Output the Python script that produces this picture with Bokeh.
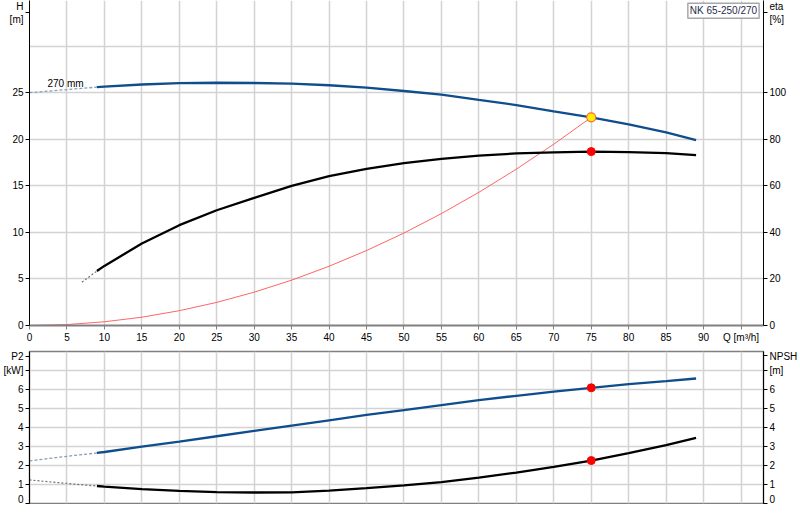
from bokeh.plotting import figure
from bokeh.models import Range1d, LinearAxis, FixedTicker, Label
from bokeh.layouts import column
from bokeh.embed import file_html
from bokeh.resources import INLINE

FONT = "Liberation Sans"

# ---------------- data ----------------
q_ticks = [0, 5, 10, 15, 20, 25, 30, 35, 40, 45, 50, 55, 60, 65, 70, 75, 80, 85, 90, 95]
h_ticks = [0, 5, 10, 15, 20, 25]
eta_ticks = [0, 20, 40, 60, 80, 100]
p2_ticks = [0, 1, 2, 3, 4, 5, 6, 7]

# head curve (270 mm impeller)
q_h_ext = [0, 3, 6, 9]
h_ext = [25.0, 25.2, 25.4, 25.6]
q_h = [9, 10, 15, 20, 25, 30, 35, 40, 45, 50, 55, 60, 65, 70, 75, 80, 85, 89]
h = [25.6, 25.65, 25.88, 26.02, 26.07, 26.04, 25.97, 25.8, 25.54, 25.18, 24.79,
     24.22, 23.67, 23.0, 22.35, 21.6, 20.75, 19.9]

# efficiency
q_eta_ext = [7, 9]
eta_ext = [18.6, 23.4]
q_eta = [9, 10, 15, 20, 25, 30, 35, 40, 45, 50, 55, 60, 65, 70, 75, 80, 85, 89]
eta = [23.4, 25.6, 35.2, 43.1, 49.5, 54.8, 60.0, 64.2, 67.3, 69.7, 71.6, 73.0,
       73.9, 74.4, 74.7, 74.5, 74.0, 73.2]

# system curve
q_sys = [0, 5, 10, 15, 20, 25, 30, 35, 40, 45, 50, 55, 60, 65, 70, 75]
h_sys = [0, 0.10, 0.40, 0.89, 1.59, 2.48, 3.58, 4.87, 6.36, 8.05, 9.93, 12.02,
         14.30, 16.79, 19.47, 22.35]

# duty point
q_duty = [75]
h_duty = [22.35]
eta_duty = [74.7]
p2_duty = [6.09]
npsh_duty = [2.26]

# power P2
q_p2_ext = [0, 3, 6, 9]
p2_ext = [2.24, 2.39, 2.53, 2.66]
q_p2 = [9, 10, 15, 20, 25, 30, 35, 40, 45, 50, 55, 60, 65, 70, 75, 80, 85, 89]
p2 = [2.66, 2.71, 2.99, 3.26, 3.54, 3.82, 4.1, 4.38, 4.66, 4.92, 5.18, 5.44,
      5.67, 5.89, 6.09, 6.28, 6.44, 6.58]

# NPSH
q_npsh_ext = [0, 3, 6, 9]
npsh_ext = [1.24, 1.13, 1.02, 0.92]
q_npsh = [9, 10, 15, 20, 25, 30, 35, 40, 45, 50, 55, 60, 65, 70, 75, 80, 85, 89]
npsh = [0.92, 0.89, 0.76, 0.66, 0.6, 0.58, 0.59, 0.68, 0.81, 0.95, 1.13, 1.36,
        1.63, 1.93, 2.26, 2.65, 3.07, 3.45]

# axis titles (shown as tick labels beside the axes)
h_title_at = 33.65
eta_title_at = 134.6
p2_title_at = 7.76
npsh_title_at = 7.79

BLUE = "#0f4d8c"
BLUE_DASH = "#8a9bbb"
GRID = "#d3d3d3"


def style_axis(ax, color="black", width=1):
    ax.axis_line_color = color
    ax.axis_line_width = width
    ax.major_tick_line_color = color
    ax.major_tick_out = 4
    ax.major_tick_in = 0
    ax.minor_tick_line_color = None
    ax.major_label_text_font = FONT
    ax.major_label_text_font_size = "10px"
    ax.major_label_text_color = "black"
    ax.major_label_standoff = 2


def label(p, x, y, text, align="center", baseline="top", size="10px", color="black", **kw):
    lb = Label(x=x, y=y, text=text, text_font=FONT, text_font_size=size,
               text_align=align, text_baseline=baseline, text_color=color, **kw)
    p.add_layout(lb)
    return lb


# ---------------- top chart ----------------
p1 = figure(width=800, height=350, x_range=Range1d(0, 98), y_range=Range1d(0, 34.9),
            output_backend="svg", toolbar_location=None,
            min_border_left=29, min_border_right=37, min_border_top=0, min_border_bottom=25)
p1.outline_line_color = None
p1.background_fill_color = "white"
p1.border_fill_color = "white"

p1.xaxis.ticker = FixedTicker(ticks=q_ticks)
p1.xaxis.major_label_overrides = {95: "Q [m³/h]"}
style_axis(p1.xaxis[0], color="#808080", width=2)
p1.xaxis.major_label_standoff = 2
p1.yaxis.ticker = FixedTicker(ticks=h_ticks + [h_title_at])
p1.yaxis.major_label_overrides = {h_title_at: "H\n[m]"}
style_axis(p1.yaxis[0])

p1.extra_y_ranges = {"eta": Range1d(0, 34.9 * 4)}
ax_eta = LinearAxis(y_range_name="eta", ticker=FixedTicker(ticks=eta_ticks + [eta_title_at]),
                    major_label_overrides={eta_title_at: "eta\n[%]"})
style_axis(ax_eta)
p1.add_layout(ax_eta, "right")

p1.xgrid.ticker = FixedTicker(ticks=q_ticks[1:])
p1.ygrid.ticker = FixedTicker(ticks=[5, 10, 15, 20, 25, 30])
for g in (p1.xgrid[0], p1.ygrid[0]):
    g.grid_line_color = GRID
    g.grid_line_width = 1.5

p1.line(q_sys, h_sys, line_color="#ff4a4a", line_width=1, line_alpha=0.85)
p1.line(q_h_ext, h_ext, line_color=BLUE_DASH, line_width=1.3, line_dash="3 2")
p1.line(q_h, h, line_color=BLUE, line_width=2.3)
p1.line(q_eta_ext, eta_ext, line_color="#707070", line_width=1.2, line_dash="2 2",
        y_range_name="eta")
p1.line(q_eta, eta, line_color="black", line_width=2.3, y_range_name="eta")
p1.scatter(q_duty, eta_duty, size=8, fill_color="#ff0000", line_color="#ff0000",
           y_range_name="eta")
p1.scatter(q_duty, h_duty, size=9, fill_color="#ffee00", line_color="#ff6a30",
           line_width=1.2)

label(p1, 2.4, 26.0, "270 mm", align="left", baseline="alphabetic")
label(p1, 87.9, 34.6, "NK 65-250/270", align="left", baseline="top", color="#1f2d4d",
      padding=2, border_line_color="#a8a8a8", border_line_width=1.5,
      background_fill_color="white")

# ---------------- bottom chart ----------------
p2f = figure(width=800, height=154, x_range=Range1d(0, 98), y_range=Range1d(0, 8),
             output_backend="svg", toolbar_location=None,
             min_border_left=29, min_border_right=37, min_border_top=1, min_border_bottom=1)
p2f.outline_line_color = "#808080"
p2f.outline_line_width = 1.5
p2f.background_fill_color = "white"
p2f.border_fill_color = "white"
p2f.xaxis.visible = False
p2f.yaxis.ticker = FixedTicker(ticks=p2_ticks + [p2_title_at])
p2f.yaxis.major_label_overrides = {7: "[kW]", p2_title_at: "P2"}
style_axis(p2f.yaxis[0])
ax_npsh = LinearAxis(ticker=FixedTicker(ticks=p2_ticks + [npsh_title_at]),
                     major_label_overrides={7: "[m]", npsh_title_at: "NPSH"})
style_axis(ax_npsh)
p2f.add_layout(ax_npsh, "right")

p2f.xgrid.ticker = FixedTicker(ticks=q_ticks[1:])
p2f.ygrid.ticker = FixedTicker(ticks=p2_ticks[1:])
for g in (p2f.xgrid[0], p2f.ygrid[0]):
    g.grid_line_color = GRID
    g.grid_line_width = 1.5

p2f.line(q_p2_ext, p2_ext, line_color=BLUE_DASH, line_width=1.3, line_dash="3 2")
p2f.line(q_p2, p2, line_color=BLUE, line_width=2.3)
p2f.line(q_npsh_ext, npsh_ext, line_color="#707070", line_width=1.2, line_dash="2 2")
p2f.line(q_npsh, npsh, line_color="black", line_width=2.3)
p2f.scatter(q_duty, p2_duty, size=8, fill_color="#ff0000", line_color="#ff0000")
p2f.scatter(q_duty, npsh_duty, size=8, fill_color="#ff0000", line_color="#ff0000")

layout = column(p1, p2f, spacing=0)
open("out.html", "w").write(file_html(layout, INLINE))
